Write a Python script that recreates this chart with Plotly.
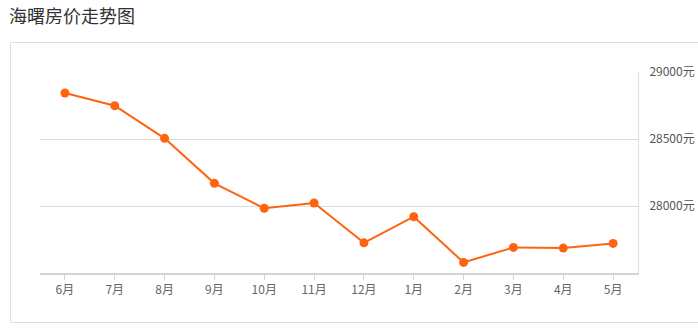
import plotly.graph_objects as go

months = ["6月", "7月", "8月", "9月", "10月", "11月", "12月", "1月", "2月", "3月", "4月", "5月"]
prices = [28843, 28748, 28505, 28169, 27983, 28022, 27725, 27920, 27579, 27691, 27686, 27721]
y_ticks = [28000, 28500, 29000]
y_tick_labels = ["28000元", "28500元", "29000元"]
title_text = "海曙房价走势图"

W, H = 698, 331
L, R, T, B = 40, 60, 72, 58
pw, ph = W - L - R, H - T - B

def px_x(x):
    return (x - L) / pw

def px_y(y):
    return (H - B - y) / ph

font_family = "Noto Sans CJK SC, Noto Sans, sans-serif"

fig = go.Figure()
fig.add_trace(go.Scatter(
    x=months, y=prices, mode="lines+markers",
    line=dict(color="#ff6310", width=2),
    marker=dict(color="#ff6310", size=9),
    hoverinfo="x+y",
))

fig.update_layout(
    width=W, height=H,
    margin=dict(l=L, r=R, t=T, b=B),
    paper_bgcolor="white", plot_bgcolor="white",
    showlegend=False,
    font=dict(family=font_family, color="#666", size=12),
    xaxis=dict(
        type="category", range=[-0.5, 11.5],
        showgrid=False, zeroline=False,
        showline=True, linecolor="#d4d4d4", linewidth=2,
        ticks="outside", ticklen=5, tickcolor="#d4d4d4", tickwidth=1,
        tickfont=dict(size=12, color="#666"),
        fixedrange=True, automargin=False,
    ),
    yaxis=dict(
        side="right", range=[27500, 29000],
        tickvals=y_ticks, ticktext=y_tick_labels,
        showgrid=True, gridcolor="#dddddd", gridwidth=1,
        zeroline=False,
        showline=True, linecolor="#dddddd", linewidth=1,
        ticks="", ticklabelstandoff=8,
        tickfont=dict(size=12, color="#555"),
        fixedrange=True, automargin=False,
    ),
    shapes=[dict(
        type="rect", xref="paper", yref="paper",
        x0=px_x(10.5), x1=px_x(705), y0=px_y(322.5), y1=px_y(42.5),
        line=dict(color="#dddddd", width=1), fillcolor="rgba(0,0,0,0)",
        layer="below",
    )],
    annotations=[dict(
        text=title_text, xref="paper", yref="paper",
        x=px_x(7), y=px_y(15), xanchor="left", yanchor="middle",
        showarrow=False, font=dict(size=18, color="#333", family=font_family),
    )],
)

fig.write_html("out.html")
